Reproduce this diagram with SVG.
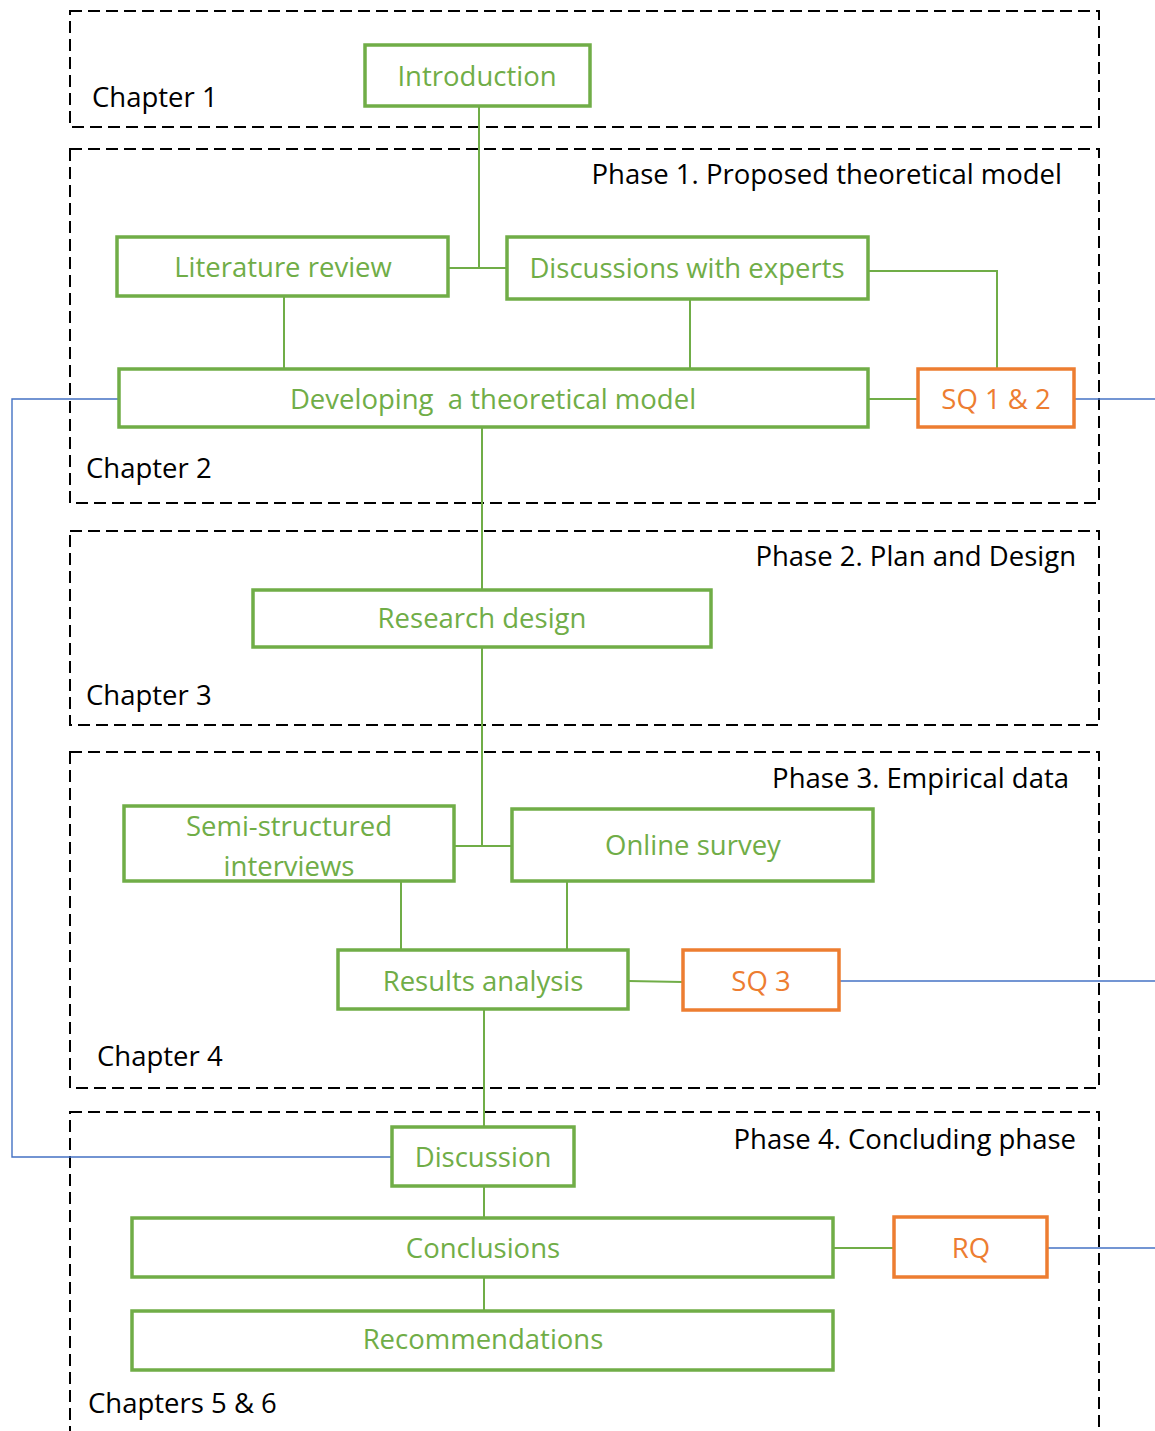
<svg xmlns="http://www.w3.org/2000/svg" width="1155" height="1431" viewBox="0 0 1155 1431">
  <style>
    .zone { fill: none; stroke: #000; stroke-width: 2; stroke-dasharray: 12 6; }
    .node { fill: #fff; stroke: #70AD47; stroke-width: 3.5; }
    .q { fill: #fff; stroke: #ED7D31; stroke-width: 3.5; }
    .nt { font-family: "Open Sans", "Liberation Sans", sans-serif; font-size: 27.5px; fill: #70AD47; text-anchor: middle; }
    .qt { font-family: "Open Sans", "Liberation Sans", sans-serif; font-size: 27.5px; fill: #ED7D31; text-anchor: middle; }
    .lbl { font-family: "Open Sans", "Liberation Sans", sans-serif; font-size: 27.5px; fill: #000; }
    .end { text-anchor: end; }
    .g { fill: none; stroke: #70AD47; stroke-width: 2; }
    .b { fill: none; stroke: #4472C4; stroke-width: 1.4; }
  </style>
  <rect width="1155" height="1431" fill="#fff"/>

  <!-- chapter / phase zones -->
  <g id="zones">
    <rect class="zone" x="70" y="11" width="1029" height="116"/>
    <rect class="zone" x="70" y="149" width="1029" height="354"/>
    <rect class="zone" x="70" y="531" width="1029" height="194"/>
    <rect class="zone" x="70" y="752" width="1029" height="336"/>
    <rect class="zone" x="70" y="1112" width="1029" height="340"/>
    <text class="lbl" x="92" y="107">Chapter 1</text>
    <text class="lbl end" x="1062" y="184">Phase 1. Proposed theoretical model</text>
    <text class="lbl" x="86" y="478">Chapter 2</text>
    <text class="lbl end" x="1076" y="566">Phase 2. Plan and Design</text>
    <text class="lbl" x="86" y="705">Chapter 3</text>
    <text class="lbl end" x="1069" y="788">Phase 3. Empirical data</text>
    <text class="lbl" x="97" y="1066">Chapter 4</text>
    <text class="lbl end" x="1076" y="1149">Phase 4. Concluding phase</text>
    <text class="lbl" x="88" y="1413">Chapters 5 &amp; 6</text>
  </g>

  <!-- connectors -->
  <g id="connectors">
    <path class="g" d="M479 106 V268"/>
    <path class="g" d="M448 268 H507"/>
    <path class="g" d="M284 296 V369"/>
    <path class="g" d="M690 299 V369"/>
    <path class="g" d="M868 271 H997 V369"/>
    <path class="g" d="M868 399 H918"/>
    <path class="g" d="M482 427 V590"/>
    <path class="g" d="M482 647 V846"/>
    <path class="g" d="M454 846 H512"/>
    <path class="g" d="M401 881 V950"/>
    <path class="g" d="M567 881 V950"/>
    <path class="g" d="M628 981 L683 982"/>
    <path class="g" d="M484 1009 V1127"/>
    <path class="g" d="M484 1186 V1218"/>
    <path class="g" d="M833 1248 H894"/>
    <path class="g" d="M484 1277 V1311"/>
    <path class="b" d="M119 399 H12 V1157 H392"/>
    <path class="b" d="M1074 399 H1155"/>
    <path class="b" d="M839 981 H1155"/>
    <path class="b" d="M1047 1248 H1155"/>
  </g>

  <g id="introduction">
    <rect class="node" x="365" y="45" width="225" height="61"/>
    <text class="nt" x="477" y="86">Introduction</text>
  </g>
  <g id="literature-review">
    <rect class="node" x="117" y="237" width="331" height="59"/>
    <text class="nt" x="283" y="277">Literature review</text>
  </g>
  <g id="discussions-experts">
    <rect class="node" x="507" y="237" width="361" height="62"/>
    <text class="nt" x="687" y="278">Discussions with experts</text>
  </g>
  <g id="theoretical-model">
    <rect class="node" x="119" y="369" width="749" height="58"/>
    <text class="nt" x="493" y="409" xml:space="preserve">Developing  a theoretical model</text>
  </g>
  <g id="sq12">
    <rect class="q" x="918" y="369" width="156" height="58"/>
    <text class="qt" x="996" y="409">SQ 1 &amp; 2</text>
  </g>
  <g id="research-design">
    <rect class="node" x="253" y="590" width="458" height="57"/>
    <text class="nt" x="482" y="628">Research design</text>
  </g>
  <g id="interviews">
    <rect class="node" x="124" y="806" width="330" height="75"/>
    <text class="nt" x="289" y="836">Semi-structured</text>
    <text class="nt" x="289" y="876">interviews</text>
  </g>
  <g id="online-survey">
    <rect class="node" x="512" y="809" width="361" height="72"/>
    <text class="nt" x="693" y="855">Online survey</text>
  </g>
  <g id="results-analysis">
    <rect class="node" x="338" y="950" width="290" height="59"/>
    <text class="nt" x="483" y="991">Results analysis</text>
  </g>
  <g id="sq3">
    <rect class="q" x="683" y="950" width="156" height="60"/>
    <text class="qt" x="761" y="991">SQ 3</text>
  </g>
  <g id="discussion">
    <rect class="node" x="392" y="1127" width="182" height="59"/>
    <text class="nt" x="483" y="1167">Discussion</text>
  </g>
  <g id="conclusions">
    <rect class="node" x="132" y="1218" width="701" height="59"/>
    <text class="nt" x="483" y="1258">Conclusions</text>
  </g>
  <g id="rq">
    <rect class="q" x="894" y="1217" width="153" height="60"/>
    <text class="qt" x="971" y="1258">RQ</text>
  </g>
  <g id="recommendations">
    <rect class="node" x="132" y="1311" width="701" height="59"/>
    <text class="nt" x="483" y="1349">Recommendations</text>
  </g>
</svg>
